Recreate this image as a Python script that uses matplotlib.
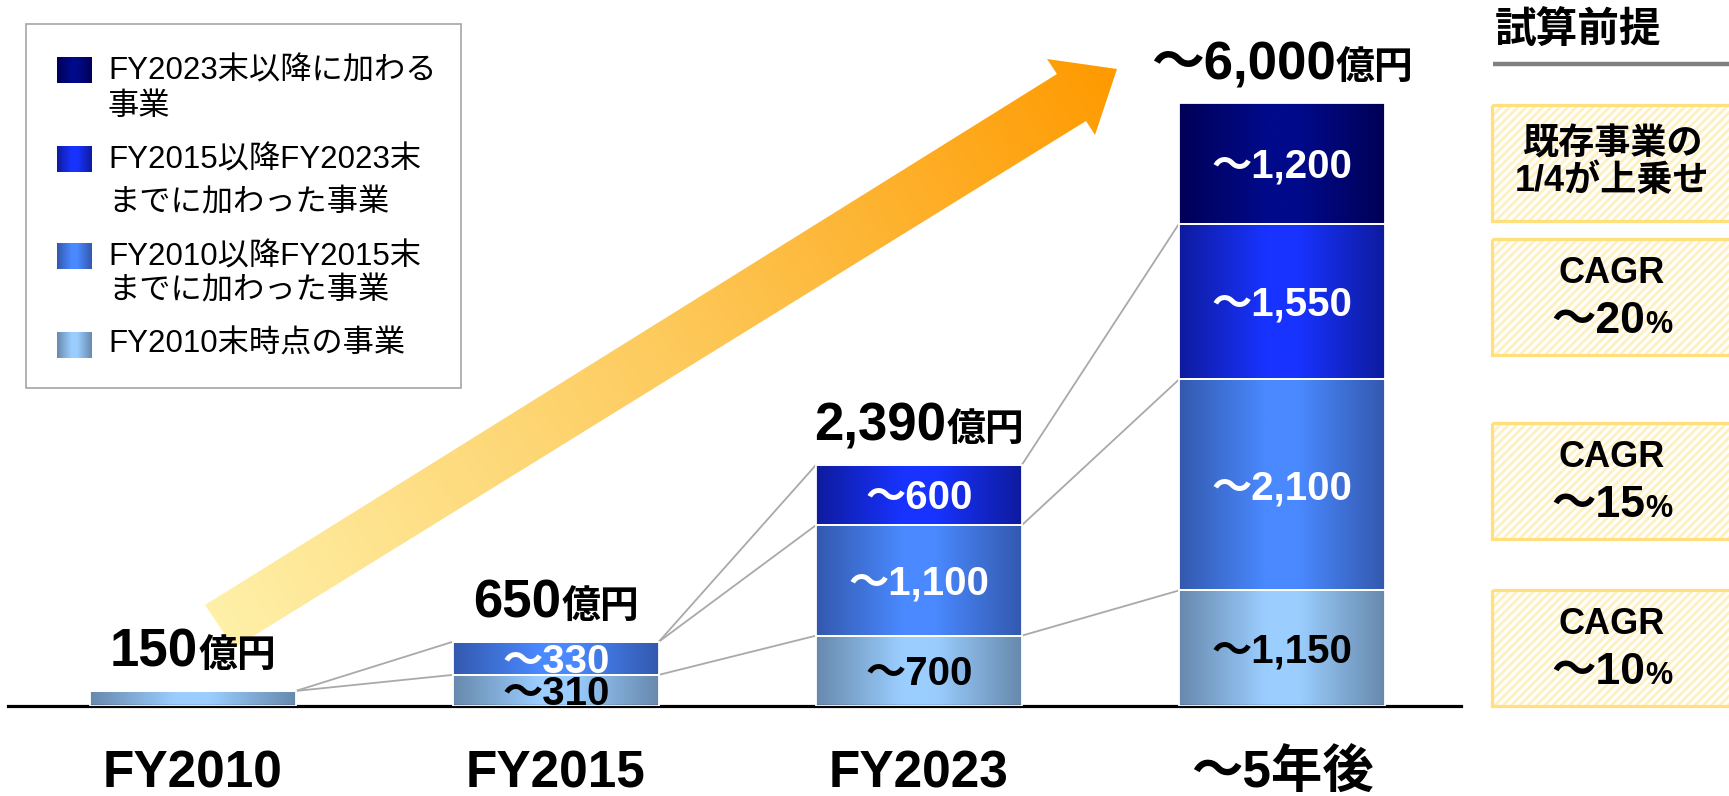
import numpy as np
import matplotlib
matplotlib.use("Agg")
import matplotlib.pyplot as plt
from matplotlib.colors import LinearSegmentedColormap
from matplotlib.patches import Polygon, Rectangle

plt.rcParams['font.family'] = ['Liberation Sans', 'Noto Sans CJK JP']
plt.rcParams['hatch.linewidth'] = 2.0

W, H = 1729, 796

# --- data -------------------------------------------------------------
categories = ['FY2010', 'FY2015', 'FY2023', '～5年後']
base_biz = [150, 310, 700, 1150]        # FY2010末時点の事業
added_10_15 = [0, 330, 1100, 2100]      # FY2010以降FY2015末までに加わった事業
added_15_23 = [0, 0, 600, 1550]         # FY2015以降FY2023末までに加わった事業
added_23 = [0, 0, 0, 1200]              # FY2023末以降に加わる事業
layers = [base_biz, added_10_15, added_15_23, added_23]

segment_labels = [
    ['', '～310', '～700', '～1,150'],
    ['', '～330', '～1,100', '～2,100'],
    ['', '', '～600', '～1,550'],
    ['', '', '', '～1,200'],
]
total_labels = ['150', '650', '2,390', '～6,000']
unit = '億円'

legend_labels = [
    ['FY2010末時点の事業'],
    ['FY2010以降FY2015末', 'までに加わった事業'],
    ['FY2015以降FY2023末', 'までに加わった事業'],
    ['FY2023末以降に加わる', '事業'],
]

# (left bar, stacked layers on left, stacked layers on right)
links = [(0, 1, 1), (0, 1, 2),
         (1, 1, 1), (1, 2, 2), (1, 2, 3),
         (2, 1, 1), (2, 2, 2), (2, 3, 3)]

premise_title = '試算前提'
premise_boxes = [
    ['既存事業の', '1/4が上乗せ'],
    ['CAGR', '～20'],
    ['CAGR', '～15'],
    ['CAGR', '～10'],
]

# --- styles -------------------------------------------------------------
edge_colors = ['#6789AD', '#3359AE', '#0E1B9E', '#000056']
center_colors = ['#9BCEFF', '#4A89FF', '#1833FF', '#000A8A']
label_colors = ['black', 'white', 'white', 'white']
cmaps = [LinearSegmentedColormap.from_list(
    'seg%d' % k, [(0, e), (0.42, c), (0.58, c), (1, e)])
    for k, (e, c) in enumerate(zip(edge_colors, center_colors))]
hgrad = np.linspace(0, 1, 256).reshape(1, -1)

fig = plt.figure(figsize=(W / 100, H / 100), dpi=100)
renderer = fig.canvas.get_renderer()

# pixel-space layer for decorations (drawn underneath the chart)
deco = fig.add_axes([0, 0, 1, 1], zorder=0)
deco.set_xlim(0, W)
deco.set_ylim(H, 0)
deco.axis('off')

ax = fig.add_axes([8 / W, (H - 706) / H, 1453 / W, 603 / H], zorder=1)
ax.patch.set_alpha(0)
XLIM = (-0.5096, 3.4931)
YLIM = (0, 6000)
bar_w = 0.567


def text_width(s, size, weight='bold'):
    t = fig.text(0, 0, s, fontsize=size, fontweight=weight)
    w = t.get_window_extent(renderer).width
    t.remove()
    return w


def mixed_text(axes, x, y, parts, dy=0, color='black'):
    # parts: list of (string, fontsize); drawn side by side, centred on x
    widths = [text_width(s, fs) for s, fs in parts]
    cur = -sum(widths) / 2
    for (s, fs), w in zip(parts, widths):
        axes.annotate(s, (x, y), xytext=(cur, dy), textcoords='offset pixels',
                      ha='left', va='baseline', fontsize=fs,
                      fontweight='bold', color=color, annotation_clip=False,
                      zorder=5)
        cur += w


# --- stacked bars with horizontal gradient ------------------------------
x = np.arange(len(categories))
bottoms = np.zeros(len(categories))
for k, vals in enumerate(layers):
    vals = np.array(vals, dtype=float)
    bars = ax.bar(x, vals, bar_w, bottom=bottoms, facecolor='none',
                  edgecolor='white', linewidth=1.3, zorder=3)
    for i, b in enumerate(bars):
        if vals[i] <= 0:
            continue
        ax.imshow(hgrad, cmap=cmaps[k], aspect='auto', interpolation='bicubic',
                  extent=[b.get_x(), b.get_x() + b.get_width(),
                          bottoms[i], bottoms[i] + vals[i]], zorder=2)
        if segment_labels[k][i]:
            fs = 29
            ax.annotate(segment_labels[k][i], (i, bottoms[i] + vals[i] / 2),
                        xytext=(0, -0.716 * fs * 100 / 72 / 2),
                        textcoords='offset pixels', ha='center', va='baseline',
                        fontsize=fs, fontweight='bold', color=label_colors[k],
                        zorder=4)
    bottoms += vals

tops = bottoms.copy()
cum = np.cumsum(np.array(layers, dtype=float), axis=0)

# connector lines between neighbouring bars
for i, a, b in links:
    ax.plot([i + bar_w / 2, i + 1 - bar_w / 2], [cum[a - 1, i], cum[b - 1, i + 1]],
            color='#A9A9A9', lw=1.3, zorder=1.5, solid_capstyle='butt')

# totals above bars
for i, lab in enumerate(total_labels):
    mixed_text(ax, i, tops[i], [(lab, 38), (unit, 28)], dy=24)

# category labels
for i, lab in enumerate(categories):
    ax.annotate(lab, (i, 0), xytext=(0, -82), textcoords='offset pixels',
                ha='center', va='baseline', fontsize=37, fontweight='bold',
                annotation_clip=False)

ax.set_xlim(*XLIM)
ax.set_ylim(*YLIM)
for side in ['top', 'right', 'left']:
    ax.spines[side].set_visible(False)
ax.spines['bottom'].set_linewidth(2.3)
ax.spines['bottom'].set_color('black')
ax.set_xticks([])
ax.set_yticks([])

# --- growth arrow ---------------------------------------------------------
arrow_pts = np.array([(234, 648), (205, 605), (1057, 74), (1047, 59),
                      (1117, 69), (1095, 135), (1086, 121)], dtype=float)
arrow = Polygon(arrow_pts, closed=True, facecolor='none', edgecolor='none')
deco.add_patch(arrow)
x0, y0 = arrow_pts.min(axis=0)
x1, y1 = arrow_pts.max(axis=0)
gx, gy = np.meshgrid(np.linspace(x0, x1, 400), np.linspace(y0, y1, 300))
tail = np.array([219.5, 626.5])
tip = np.array([1117.0, 69.0])
d = tip - tail
t = ((gx - tail[0]) * d[0] + (gy - tail[1]) * d[1]) / (d @ d)
arrow_cmap = LinearSegmentedColormap.from_list(
    'arrow', [(0, '#FFF0A8'), (0.5, '#FDCA5C'), (1, '#FF9A00')])
im = deco.imshow(np.clip(t, 0, 1), cmap=arrow_cmap, origin='upper',
                 extent=[x0, x1, y1, y0], aspect='auto', interpolation='bilinear')
im.set_clip_path(arrow)

# --- legend ---------------------------------------------------------------
deco.add_patch(Rectangle((26, 24), 435, 364, facecolor='white',
                         edgecolor='#A6A6A6', lw=1.2, zorder=1))
legend_rows = [  # (square top, line centres) top to bottom
    (57, [71, 107]),
    (146, [160, 203]),
    (243, [257, 292]),
    (332, [345]),
]
for row, k in zip(legend_rows, [3, 2, 1, 0]):
    sq_top, centres = row
    deco.imshow(hgrad, cmap=cmaps[k], aspect='auto', interpolation='bicubic',
                extent=[57, 92, sq_top + 26, sq_top], zorder=2)
    for line, yc in zip(legend_labels[k], centres):
        deco.text(108, yc, line, fontsize=22.5, ha='left', va='center', zorder=3)

# --- assumptions panel ---------------------------------------------------
deco.text(1495, 31, premise_title, fontsize=30, fontweight='bold',
          ha='left', va='center')
deco.plot([1493, W], [64, 64], color='#808080', lw=3.2, solid_capstyle='butt')

box_tops = [105, 239, 423, 590]
box_h = 116
cx = 1612
for top, lines in zip(box_tops, premise_boxes):
    deco.add_patch(Rectangle((1492, top), 260, box_h, facecolor='white',
                             edgecolor='#FFF0C0', hatch='////', lw=0))
    deco.add_patch(Rectangle((1492, top), 260, box_h, fill=False,
                             edgecolor='#FFE07C', lw=2.3))
    if lines[0] == 'CAGR':
        deco.text(cx, top + 44, lines[0], fontsize=26, fontweight='bold',
                  ha='center', va='baseline')
        mixed_text(deco, cx, top + 94, [(lines[1], 32), ('%', 22)])
    else:
        deco.text(cx, top + 40, lines[0], fontsize=26, fontweight='bold',
                  ha='center', va='center')
        deco.text(cx, top + 77, lines[1], fontsize=26, fontweight='bold',
                  ha='center', va='center')

deco.set_xlim(0, W)
deco.set_ylim(H, 0)

fig.savefig('out.png', dpi=100)
